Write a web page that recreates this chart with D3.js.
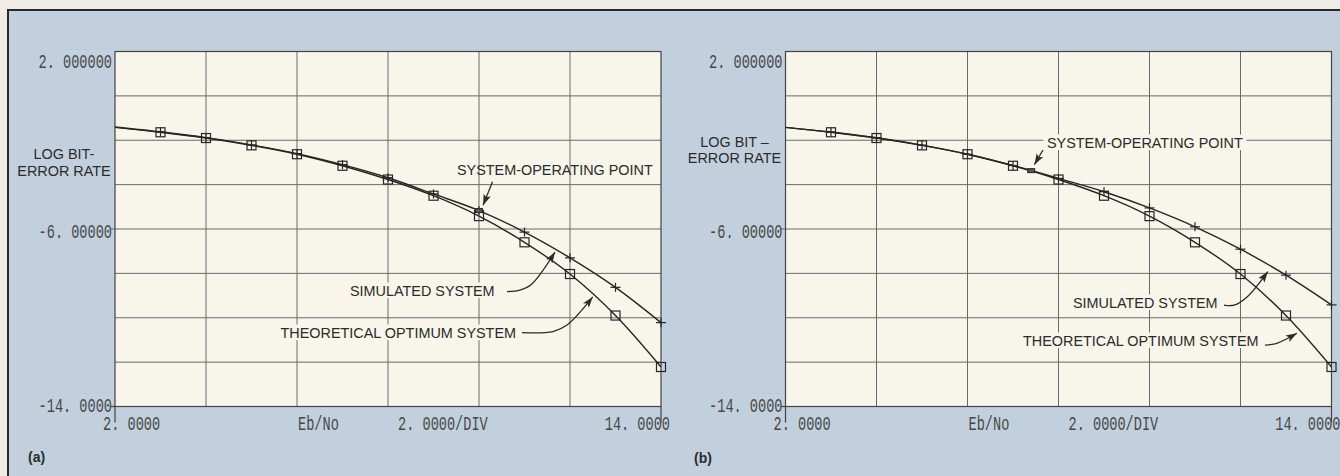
<!DOCTYPE html>
<html>
<head>
<meta charset="utf-8">
<script src="https://cdn.jsdelivr.net/npm/d3@7"></script>
<style>
  html, body { margin: 0; padding: 0; background: #eeece4; }
  svg { display: block; }
</style>
</head>
<body>
<svg id="chart" width="1340" height="476"></svg>
<script>
// Eb/No sample points (dB)
const ebNo = [2, 3, 4, 5, 6, 7, 8, 9, 10, 11, 12, 13, 14];
// log bit-error rate of the theoretical optimum system (both panels)
const theoreticalBer = [-1.42, -1.64, -1.90, -2.23, -2.63, -3.15, -3.77, -4.50, -5.42, -6.60, -8.03, -9.90, -12.22];
// log bit-error rate of the simulated system, panel (a)
const simulatedBerA = [-1.40, -1.62, -1.88, -2.21, -2.60, -3.10, -3.69, -4.42, -5.17, -6.14, -7.30, -8.63, -10.22];
// log bit-error rate of the simulated system, panel (b)
const simulatedBerB = [-1.42, -1.63, -1.89, -2.22, -2.63, -3.14, -3.72, -4.32, -5.05, -5.90, -6.91, -8.08, -9.42];
// system-operating points (Eb/No, log BER)
const operatingPointA = [10, -5.17];
const operatingPointB = [7.4, -3.37];
// axis ticks
const yTickValues = [2, -6, -14];
const yTickLabels = ["2. 000000", "-6. 00000", "-14. 0000"];
const xTickValues = [2, 14];
const xTickLabels = ["2. 0000", "14. 0000"];
const xAxisTitle = "Eb/No";
const xAxisScale = "2. 0000/DIV";
const xDomain = [2, 14];
const yDomain = [-14, 2];

const svg = d3.select("#chart");
const PLOT_W = 546, PLOT_TOP = 51.5, PLOT_BOTTOM = 406.5;

const C = {
  page: "#eeece4",
  panel: "#c2d0dd",
  plot: "#f8f5ea",
  grid: "#6a6a6a",
  frame: "#444",
  curve: "#262626",
  ink: "#2b2b2b",
  tick: "#474747"
};

// annotation layout, in data units of each panel
const panels = [
  {
    tag: "(a)", left: 115, tagDx: -87, tagY: 462,
    simulated: simulatedBerA, op: operatingPointA,
    yLabel: ["LOG BIT-", "ERROR RATE"], yLabelY: [159, 176],
    notes: [
      { text: "SYSTEM-OPERATING POINT", at: [9.516, -3.566], mask: false,
        leader: [[10.297, -3.868], [10.09, -4.93]] },
      { text: "SIMULATED SYSTEM", at: [7.165, -9.02], mask: true,
        leader: [[10.615, -8.82], [10.90, -8.75], [11.15, -8.50], [11.67, -7.04]] },
      { text: "THEORETICAL OPTIMUM SYSTEM", at: [5.637, -10.913], mask: true,
        leader: [[10.945, -10.67], [11.626, -10.62], [11.95, -10.30], [12.50, -9.06]] }
    ]
  },
  {
    tag: "(b)", left: 785.5, tagDx: -91.5, tagY: 463,
    simulated: simulatedBerB, op: operatingPointB,
    yLabel: ["LOG BIT \u2013", "ERROR RATE"], yLabelY: [147, 163],
    notes: [
      { text: "SYSTEM-OPERATING POINT", at: [7.747, -2.349], mask: true,
        leader: [[7.659, -2.44], [7.47, -3.10]] },
      { text: "SIMULATED SYSTEM", at: [8.319, -9.56], mask: true,
        leader: [[11.637, -9.43], [11.86, -9.43], [12.15, -9.05], [12.60, -7.92]] },
      { text: "THEORETICAL OPTIMUM SYSTEM", at: [7.22, -11.27], mask: true,
        leader: [[12.538, -11.23], [12.80, -11.15], [13.24, -10.70]] }
    ]
  }
];

// page background and outer panel
svg.append("rect").attr("width", 1340).attr("height", 476).attr("fill", C.page);
svg.append("rect").attr("x", 8).attr("y", 10).attr("width", 1345).attr("height", 480)
  .attr("fill", C.panel).attr("stroke", "#2a2a2a").attr("stroke-width", 2);

// arrowhead
svg.append("defs").append("marker")
  .attr("id", "arrow").attr("markerUnits", "userSpaceOnUse")
  .attr("markerWidth", 12).attr("markerHeight", 10)
  .attr("viewBox", "0 0 12 10").attr("refX", 11).attr("refY", 5).attr("orient", "auto")
  .append("path").attr("d", "M0,1.2 L11,5 L0,8.8 L2.5,5 Z").attr("fill", C.ink);

// text squeezed horizontally to the plotter's narrow lettering
function squeezed(parent, str, x, y, opts) {
  const g = parent.append("g").attr("transform", `translate(${x},${y}) scale(${opts.sx},1)`);
  let bg = null;
  if (opts.mask) bg = g.append("rect").attr("fill", C.plot);
  const t = g.append("text").text(str)
    .attr("text-anchor", opts.anchor || "start")
    .attr("font-family", opts.family)
    .attr("font-size", opts.size)
    .attr("font-weight", opts.weight || "normal")
    .attr("fill", opts.fill);
  if (bg) {
    const b = t.node().getBBox();
    bg.attr("x", b.x - 4).attr("y", b.y + 1).attr("width", b.width + 8).attr("height", b.height - 2);
  }
  return g;
}
const MONO = { family: "'Liberation Mono', 'DejaVu Sans Mono', monospace", size: 20, sx: 0.68, fill: C.tick };
const SANS = { family: "'Liberation Sans', Arial, sans-serif", size: 15.5, sx: 0.93, fill: C.ink };

panels.forEach(p => {
  const x = d3.scaleLinear().domain(xDomain).range([p.left, p.left + PLOT_W]);
  const y = d3.scaleLinear().domain(yDomain).range([PLOT_BOTTOM, PLOT_TOP]);
  const g = svg.append("g");

  // plot area
  g.append("rect").attr("x", x(2)).attr("y", y(2))
    .attr("width", x(14) - x(2)).attr("height", y(-14) - y(2)).attr("fill", C.plot);

  // grid
  const gx = d3.range(4, 14, 2), gy = d3.range(0, -14, -2);
  g.selectAll(".vg").data(gx).join("line")
    .attr("x1", d => x(d)).attr("x2", d => x(d)).attr("y1", y(2)).attr("y2", y(-14))
    .attr("stroke", C.grid).attr("stroke-width", 1);
  g.selectAll(".hg").data(gy).join("line")
    .attr("x1", d => x(2) - (d === -6 ? 5 : 0)).attr("x2", x(14)).attr("y1", d => y(d)).attr("y2", d => y(d))
    .attr("stroke", C.grid).attr("stroke-width", 1);

  // frame, with end ticks running past the corners
  g.append("rect").attr("x", x(2)).attr("y", y(2))
    .attr("width", x(14) - x(2)).attr("height", y(-14) - y(2))
    .attr("fill", "none").attr("stroke", C.frame).attr("stroke-width", 1.2);
  g.selectAll(".xt").data(xTickValues).join("line")
    .attr("x1", d => x(d)).attr("x2", d => x(d)).attr("y1", y(-14)).attr("y2", y(-14) + 16)
    .attr("stroke", C.frame).attr("stroke-width", 1.2);
  g.append("line").attr("x1", x(2) - 5).attr("x2", x(2)).attr("y1", y(-14)).attr("y2", y(-14))
    .attr("stroke", C.frame).attr("stroke-width", 1.2);

  // y tick labels
  yTickValues.forEach((v, i) => {
    const by = Math.min(Math.max(y(v) + 8.5, PLOT_TOP + 16.5), PLOT_BOTTOM + 5.5);
    squeezed(g, yTickLabels[i], x(2) - 3, by, { ...MONO, anchor: "end" });
  });
  // x tick labels and axis titles
  squeezed(g, xTickLabels[0], x(xTickValues[0]) - 12, 430, { ...MONO, anchor: "start" });
  squeezed(g, xTickLabels[1], x(xTickValues[1]) + 9, 430, { ...MONO, anchor: "end" });
  squeezed(g, xAxisTitle, x(6) + 1, 430, { ...MONO, anchor: "start" });
  squeezed(g, xAxisScale, x(8) + 10, 430, { ...MONO, anchor: "start" });

  // y axis title
  p.yLabel.forEach((s, i) => {
    squeezed(g, s, p.left - 51, p.yLabelY[i], { ...SANS, anchor: "middle" });
  });

  // panel tag
  g.append("text").text(p.tag).attr("x", p.left + p.tagDx).attr("y", p.tagY)
    .attr("font-family", "'Liberation Sans', Arial, sans-serif").attr("font-weight", "bold")
    .attr("font-size", 14).attr("fill", C.ink);

  // annotation labels (masking the grid behind them)
  p.notes.forEach(n => {
    squeezed(g, n.text, x(n.at[0]), y(n.at[1]), { ...SANS, mask: n.mask });
  });

  // curves
  const line = d3.line().x(d => x(d[0])).y(d => y(d[1])).curve(d3.curveMonotoneX);
  const theo = ebNo.map((e, i) => [e, theoreticalBer[i]]);
  const sim = ebNo.map((e, i) => [e, p.simulated[i]]);
  [theo, sim].forEach(pts => {
    g.append("path").attr("d", line(pts)).attr("fill", "none")
      .attr("stroke", C.curve).attr("stroke-width", 1.4);
  });

  // square markers: theoretical optimum
  g.selectAll(".sq").data(theo.filter(d => d[0] >= 3)).join("rect")
    .attr("x", d => x(d[0]) - 4.5).attr("y", d => y(d[1]) - 4.5)
    .attr("width", 9).attr("height", 9)
    .attr("fill", "none").attr("stroke", C.curve).attr("stroke-width", 1.2);

  // plus markers: simulated system
  const plus = sim.filter(d => d[0] >= 3);
  g.selectAll(".ph").data(plus).join("line")
    .attr("x1", d => x(d[0]) - 5).attr("x2", d => x(d[0]) + 5)
    .attr("y1", d => y(d[1])).attr("y2", d => y(d[1]))
    .attr("stroke", C.curve).attr("stroke-width", 1.2);
  g.selectAll(".pv").data(plus).join("line")
    .attr("x1", d => x(d[0])).attr("x2", d => x(d[0]))
    .attr("y1", d => y(d[1]) - 4.5).attr("y2", d => y(d[1]) + 4.5)
    .attr("stroke", C.curve).attr("stroke-width", 1.2);

  // system-operating point
  g.append("rect").attr("x", x(p.op[0]) - 3.5).attr("y", y(p.op[1]) - 2)
    .attr("width", 7).attr("height", 4)
    .attr("fill", "#555").attr("stroke", C.curve).attr("stroke-width", 1);

  // leader arrows
  const lead = d3.line().x(d => x(d[0])).y(d => y(d[1])).curve(d3.curveCatmullRom.alpha(0.5));
  p.notes.forEach(n => {
    g.append("path").attr("d", lead(n.leader)).attr("fill", "none")
      .attr("stroke", C.ink).attr("stroke-width", 1.3).attr("marker-end", "url(#arrow)");
  });
});
</script>
</body>
</html>
